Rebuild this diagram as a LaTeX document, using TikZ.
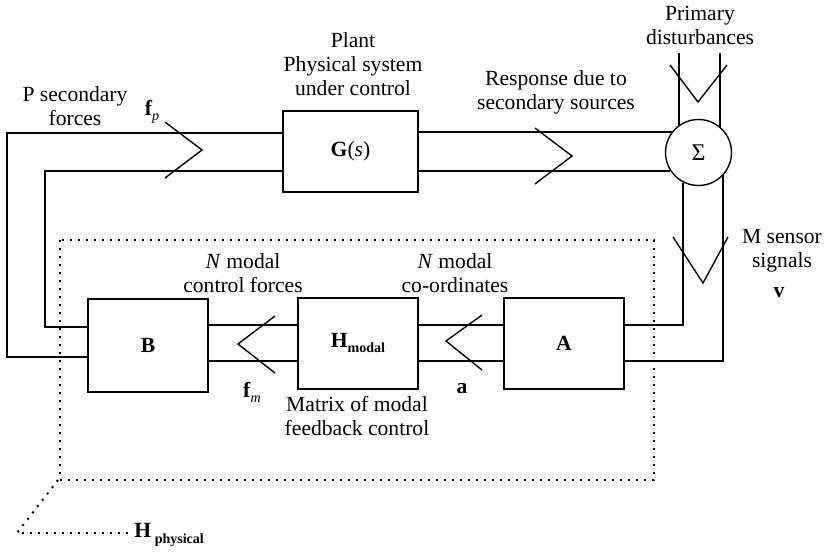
\documentclass[tikz,border=0pt]{standalone}
\usepackage{fontspec}
\setmainfont{Liberation Serif}
\usetikzlibrary{calc}

\tikzset{
  block/.style={draw, line width=1pt, minimum width=60pt, minimum height=45.5pt, inner sep=0pt},
  bus/.style={line width=1pt},
  chev/.style={line width=0.7pt},
  frame/.style={line width=1pt, dash pattern=on 1pt off 3pt},
  lbl/.style={align=center, inner sep=0pt},
}

\begin{document}
\begin{tikzpicture}[x=.5pt,y=-.5pt,every node/.style={font=\fontsize{10.8}{12}\selectfont}]
  \useasboundingbox (0,0) rectangle (825,553);
  % blocks
  \node[block, minimum width=67.5pt, minimum height=40.5pt] (G) at (350.5,151.5) {\textbf{G}(\textit{s})};
  \node[block, minimum height=46.5pt] (B) at (148,345.5) {\textbf{B}};
  \node[block] (Hm) at (358,343) {\textbf{H}\raisebox{-.5ex}{\scriptsize\bfseries modal}};
  \node[block] (A) at (564,343) {\textbf{A}};
  \node[draw, circle, line width=.7pt, minimum size=33pt, inner sep=0pt] (sum) at (698.5,152.5) {\large Σ};

  % free ends
  \coordinate (dist) at (700,53);
  \coordinate (outerL) at (7,250);
  \coordinate (innerL) at (45,250);

  % plant to summing junction
  \draw[bus] (G.east |- sum.143) -- (sum.143);
  \draw[bus] (G.east |- sum.213) -- (sum.213);
  \draw[bus] (sum.125) -- (sum.125 |- dist);
  \draw[bus] (sum.50) -- (sum.50 |- dist);
  % sensors back to A
  \draw[bus] (sum.243) |- ($(A.east)+(0,-18)$);
  \draw[bus] (sum.317) |- ($(A.east)+(0,18)$);
  % modal path
  \draw[bus] ($(Hm.east)+(0,-18)$) -- ($(A.west)+(0,-18)$);
  \draw[bus] ($(Hm.east)+(0,18)$) -- ($(A.west)+(0,18)$);
  \draw[bus] ($(B.east)+(0,-20.5)$) -- ($(Hm.west)+(0,-18)$);
  \draw[bus] ($(B.east)+(0,15.5)$) -- ($(Hm.west)+(0,18)$);
  % secondary forces to plant
  \draw[bus] ($(B.west)+(0,-18.5)$) -| (innerL) |- ($(G.west)+(0,19)$);
  \draw[bus] ($(B.west)+(0,11.5)$) -| (outerL) |- ($(G.west)+(0,-19)$);

  % chevrons
  \draw[chev] (165,122) -- (202,150) -- (165,178);
  \draw[chev] (535,128) -- (572,156) -- (535,184);
  \draw[chev] (670,65) -- (698,102) -- (727,65);
  \draw[chev] (673,237) -- (703,283) -- (728,237);
  \draw[chev] (275,316) -- (238,344) -- (275,373);
  \draw[chev] (482,315) -- (446,341) -- (482,370);

  % physical controller
  \draw[frame] (60,240) rectangle (654,480);
  \draw[frame] (58,480) -- (17,533) -- (130,533);

  % labels
  \node[lbl] (plantlbl) at (353,64) {Plant\\Physical system\\under control};
  \node[lbl] (psec) at (75,106) {P secondary\\forces};
  \node (fp) at (152,112) {\textbf{f}\raisebox{-.5ex}{\scriptsize\itshape p}};
  \node[lbl] (resp) at (556,92) {Response due to\\secondary sources};
  \node[lbl] (prim) at (700,25) {Primary\\disturbances};
  \node[lbl] (msens) at (782,251) {M sensor\\signals};
  \node (vlbl) at (779,293) {\textbf{v}};
  \node[lbl] (nctrl) at (243,273) {\textit{N} modal\\control forces};
  \node[lbl] (ncoord) at (455,273) {\textit{N} modal\\co-ordinates};
  \node (fm) at (252,392) {\textbf{f}\raisebox{-.5ex}{\scriptsize\itshape m}};
  \node (alb) at (462,389) {\textbf{a}};
  \node[lbl] (matlbl) at (357,416) {Matrix of modal\\feedback control};
  \node[anchor=west, inner sep=0pt] (Hphys) at (134,535) {\textbf{H}\,\raisebox{-.6ex}{\scriptsize\bfseries physical}};
\end{tikzpicture}
\end{document}
